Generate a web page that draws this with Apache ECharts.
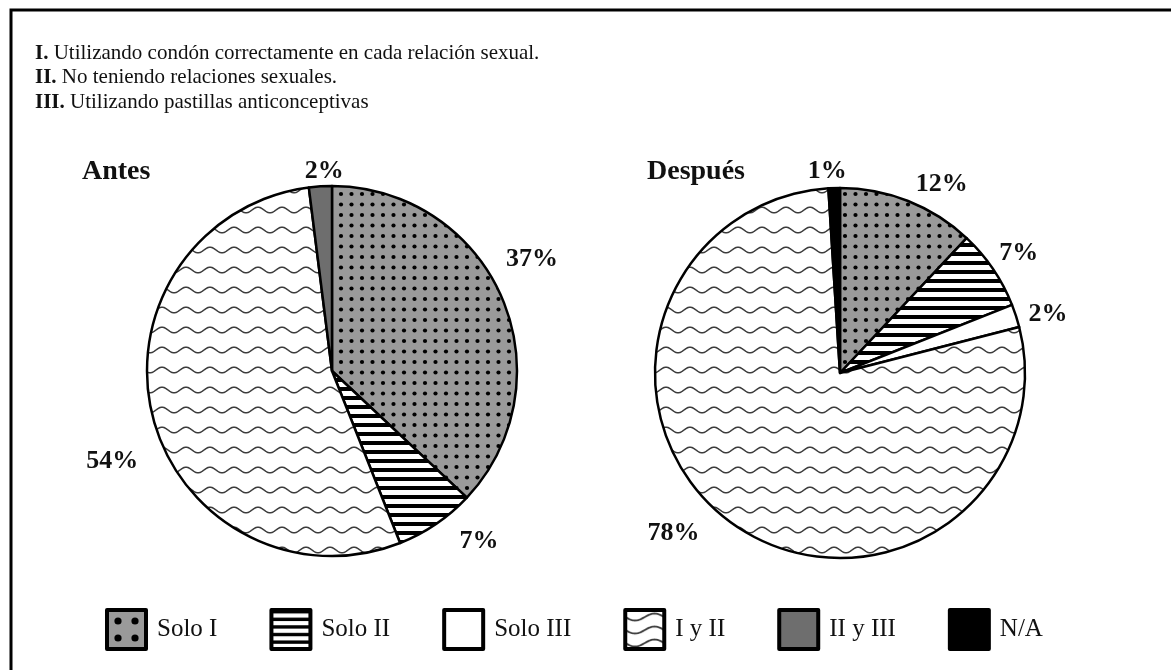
<!DOCTYPE html>
<html>
<head>
<meta charset="utf-8">
<script src="https://cdn.jsdelivr.net/npm/echarts@6/dist/echarts.min.js"></script>
<style>
  html, body { margin: 0; padding: 0; background: #fff; }
  #chart { width: 1171px; height: 670px; }
</style>
</head>
<body>
<div id="chart"></div>
<script>
// categorías y porcentajes
const categories = ['Solo I', 'Solo II', 'Solo III', 'I y II', 'II y III', 'N/A'];
const antes = [37, 7, 0, 54, 2, 0];
const despues = [12, 7, 2, 78, 0, 1];
const pieTitles = ['Antes', 'Después'];
const notes = [
  ['I.', 'Utilizando condón correctamente en cada relación sexual.'],
  ['II.', 'No teniendo relaciones sexuales.'],
  ['III.', 'Utilizando pastillas anticonceptivas']
];

const FONT = '"Liberation Serif", "DejaVu Serif", serif';
const INK = '#111';

// ajuste fino de la posición de cada etiqueta (dx, dy) por categoría
const labelNudge = [
  { 'Solo I': [-10, -34], 'Solo II': [13, 9], 'I y II': [0, 42], 'II y III': [29, -5] },
  { 'Solo I': [-1, -7], 'Solo II': [-7, -10], 'Solo III': [-2, 2], 'I y II': [-21, 3], 'N/A': [18, -7] }
];

// patrones de relleno
function canvasPattern(w, h, draw) {
  const c = document.createElement('canvas');
  c.width = w; c.height = h;
  draw(c.getContext('2d'), w, h);
  return { image: c, repeat: 'repeat' };
}

function drawDots(ctx, w, h, pts, r) {
  ctx.fillStyle = '#9a9a9a';
  ctx.fillRect(0, 0, w, h);
  ctx.fillStyle = '#000';
  pts.forEach(p => {
    ctx.beginPath();
    ctx.arc(p[0], p[1], r, 0, Math.PI * 2);
    ctx.fill();
  });
}

function drawStripes(ctx, w, h, period, thick) {
  ctx.fillStyle = '#fff';
  ctx.fillRect(0, 0, w, h);
  ctx.fillStyle = '#000';
  for (let y = 0; y < h; y += period) ctx.fillRect(0, y, w, thick);
}

function drawWaves(ctx, w, h, rows, period, amp, lw) {
  ctx.fillStyle = '#fff';
  ctx.fillRect(0, 0, w, h);
  ctx.strokeStyle = '#3c3c3c';
  ctx.lineWidth = lw;
  rows.forEach(y0 => {
    ctx.beginPath();
    for (let x = -1; x <= w + 1; x += 0.5) {
      const y = y0 + amp * Math.sin(x / period * Math.PI * 2);
      if (x === -1) ctx.moveTo(x, y); else ctx.lineTo(x, y);
    }
    ctx.stroke();
  });
}

const dots = canvasPattern(21, 21, (ctx, w, h) =>
  drawDots(ctx, w, h, [[5, 5], [15.5, 5], [5, 15.5], [15.5, 15.5]], 2.1));
const stripes = canvasPattern(8, 9, (ctx, w, h) => drawStripes(ctx, w, h, 9, 4));
const waves = canvasPattern(24, 20, (ctx, w, h) => drawWaves(ctx, w, h, [10], 24, 2.8, 1.5));

// versiones ampliadas para los iconos de la leyenda
const dotsIcon = canvasPattern(39, 39, (ctx, w, h) =>
  drawDots(ctx, w, h, [[11, 11], [28, 11], [11, 28], [28, 28]], 3.6));
const stripesIcon = canvasPattern(39, 39, (ctx, w, h) => drawStripes(ctx, w, h, 7.6, 3.4));
const wavesIcon = canvasPattern(39, 39, (ctx, w, h) => drawWaves(ctx, w, h, [7, 20, 33], 39, 3.5, 1.8));

const fills = [dots, stripes, '#fff', waves, '#6e6e6e', '#000'];
const iconFills = [dotsIcon, stripesIcon, '#fff', wavesIcon, '#6e6e6e', '#000'];

function pieData(values) {
  return categories
    .map((name, i) => ({ name, value: values[i], itemStyle: { color: fills[i] } }))
    .filter(d => d.value > 0);
}

const seriesData = [pieData(antes), pieData(despues)];

const chart = echarts.init(document.getElementById('chart'), null, { renderer: 'canvas' });

const pieBase = {
  type: 'pie',
  radius: 185,
  startAngle: 90,
  clockwise: true,
  avoidLabelOverlap: false,
  silent: true,
  itemStyle: { borderColor: '#000', borderWidth: 2.5 },
  label: {
    position: 'outside',
    formatter: '{c}%',
    fontFamily: FONT,
    fontSize: 26,
    fontWeight: 'bold',
    color: INK
  },
  labelLine: { show: false, length: 10, length2: 0 },
  labelLayout: function (params) {
    const name = seriesData[params.seriesIndex][params.dataIndex].name;
    const n = labelNudge[params.seriesIndex][name] || [0, 0];
    return { dx: n[0], dy: n[1] };
  },
  emphasis: { disabled: true }
};

chart.setOption({
  animation: false,
  backgroundColor: '#fff',
  title: [
    {
      left: 35,
      top: 41,
      padding: 0,
      text: notes.map(n => '{b|' + n[0] + '} ' + n[1]).join('\n'),
      textStyle: {
        fontFamily: FONT, fontSize: 21, fontWeight: 'normal', color: INK, lineHeight: 24.5,
        rich: { b: { fontFamily: FONT, fontSize: 21, fontWeight: 'bold', color: INK, lineHeight: 24.5 } }
      }
    },
    {
      left: 82, top: 158, padding: 0, text: pieTitles[0],
      textStyle: { fontFamily: FONT, fontSize: 28, fontWeight: 'bold', color: INK }
    },
    {
      left: 647, top: 158, padding: 0, text: pieTitles[1],
      textStyle: { fontFamily: FONT, fontSize: 28, fontWeight: 'bold', color: INK }
    }
  ],
  legend: {
    data: categories.map((name, i) => ({ name, itemStyle: { color: iconFills[i] } })),
    left: 105,
    top: 608,
    padding: 0,
    icon: 'rect',
    itemWidth: 39,
    itemHeight: 39,
    itemGap: 52,
    selectedMode: false,
    itemStyle: { borderColor: '#000', borderWidth: 4 },
    textStyle: { fontFamily: FONT, fontSize: 25, color: INK, padding: [0, 0, 0, 6] }
  },
  graphic: [
    {
      type: 'rect',
      shape: { x: 11, y: 10, width: 2000, height: 2000 },
      style: { fill: null, stroke: '#000', lineWidth: 3 },
      silent: true
    }
  ],
  series: [
    Object.assign({}, pieBase, { name: pieTitles[0], center: [332, 371], data: seriesData[0] }),
    Object.assign({}, pieBase, { name: pieTitles[1], center: [840, 373], data: seriesData[1] })
  ]
});
</script>
</body>
</html>
